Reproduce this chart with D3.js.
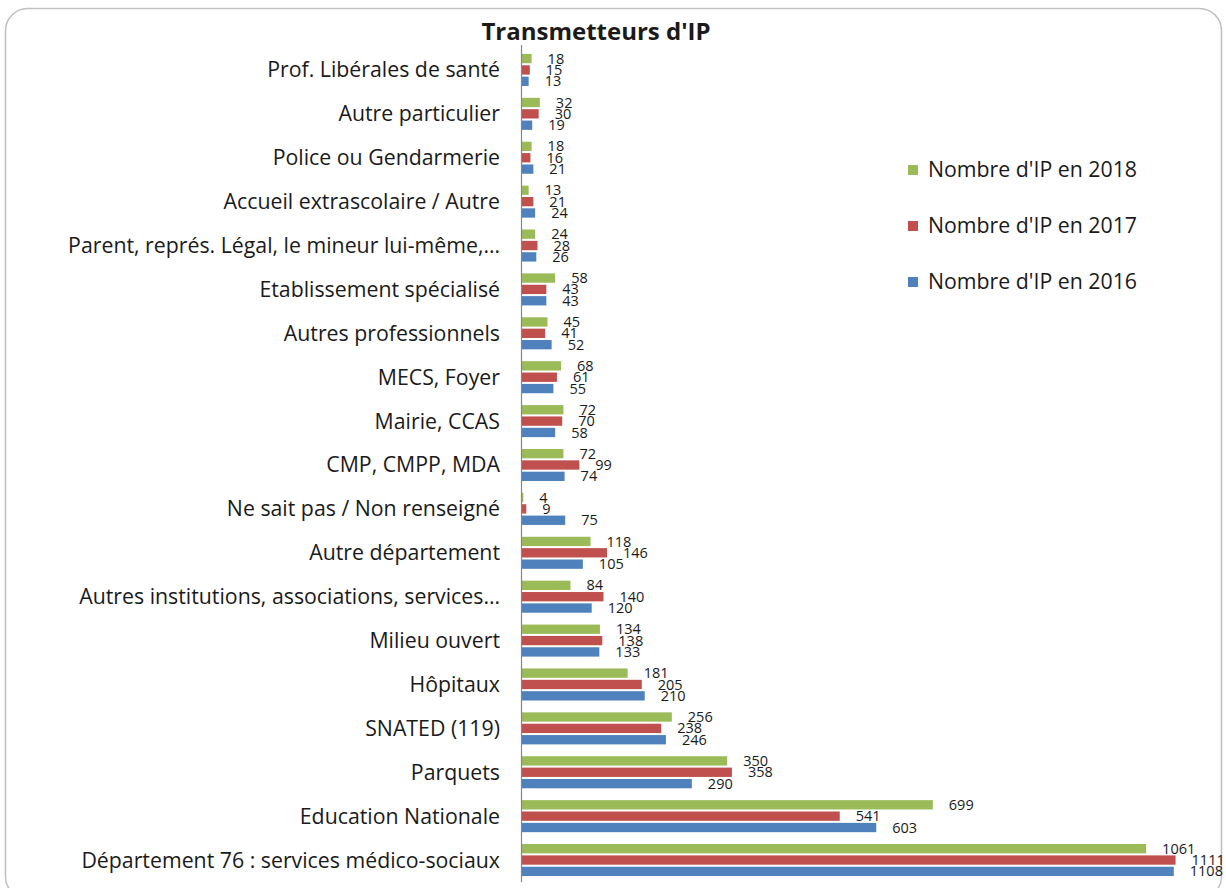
<!DOCTYPE html>
<meta charset="utf-8">
<style>
  body { margin: 0; background: #fff; }
  text { font-family: "Open Sans", sans-serif; fill: #1a1a1a; }
  .cat { font-size: 21.3px; }
  .val { font-size: 14.5px; }
  .leg { font-size: 21.3px; }
  .title { font-size: 24px; font-weight: bold; }
</style>

<body>
  <script src="https://cdn.jsdelivr.net/npm/d3@7/dist/d3.min.js"></script>
  <script>

    var categories = [
      "Prof. Libérales de santé",
      "Autre particulier",
      "Police ou Gendarmerie",
      "Accueil extrascolaire / Autre",
      "Parent, représ. Légal, le mineur lui-même,…",
      "Etablissement spécialisé",
      "Autres professionnels",
      "MECS, Foyer",
      "Mairie, CCAS",
      "CMP, CMPP, MDA",
      "Ne sait pas / Non renseigné",
      "Autre département",
      "Autres institutions, associations, services…",
      "Milieu ouvert",
      "Hôpitaux",
      "SNATED (119)",
      "Parquets",
      "Education Nationale",
      "Département 76 : services médico-sociaux"
    ];

    var ip2018 = [18, 32, 18, 13, 24, 58, 45, 68, 72, 72, 4, 118, 84, 134, 181, 256, 350, 699, 1061];
    var ip2017 = [15, 30, 16, 21, 28, 43, 41, 61, 70, 99, 9, 146, 140, 138, 205, 238, 358, 541, 1111];
    var ip2016 = [13, 19, 21, 24, 26, 43, 52, 55, 58, 74, 75, 105, 120, 133, 210, 246, 290, 603, 1108];

    var seriesNames = ["Nombre d'IP en 2018", "Nombre d'IP en 2017", "Nombre d'IP en 2016"];
    var colors = ["#9BBB59", "#C0504D", "#4F81BD"];

    var series = [ip2018, ip2017, ip2016];

    var width = 1226, height = 888;

    var svg = d3.select("body").append("svg")
      .attr("width", width)
      .attr("height", height);

    // outer frame
    svg.append("rect")
      .attr("x", 5.5).attr("y", 8.5)
      .attr("width", 1216).attr("height", 890)
      .attr("rx", 22)
      .attr("fill", "#fff")
      .attr("stroke", "#bfbfbf")
      .attr("stroke-width", 1.5);

    svg.append("text")
      .attr("class", "title")
      .attr("x", 596).attr("y", 40)
      .attr("text-anchor", "middle")
      .text("Transmetteurs d'IP");

    var x = d3.scaleLinear()
      .domain([0, 1200])
      .range([521, 1228]);

    var y = d3.scaleBand()
      .domain(categories)
      .range([48, 882])
      .paddingInner(0.27)
      .paddingOuter(0.135);

    var ys = d3.scaleBand()
      .domain(d3.range(series.length))
      .range([0, y.bandwidth()])
      .paddingInner(0.18);

    var groups = svg.selectAll("g.catg")
      .data(categories)
      .enter().append("g")
      .attr("class", "catg")
      .attr("transform", function (d) { return "translate(0," + y(d) + ")"; });

    groups.each(function (c, i) {
      var g = d3.select(this);
      series.forEach(function (s, k) {
        g.append("rect")
          .attr("x", x(0))
          .attr("y", ys(k))
          .attr("width", x(s[i]) - x(0))
          .attr("height", ys.bandwidth())
          .attr("fill", colors[k]);
        g.append("text")
          .attr("class", "val")
          .attr("x", x(s[i]) + 16)
          .attr("y", ys(k) + ys.bandwidth() / 2)
          .attr("dy", "0.35em")
          .text(s[i]);
      });
    });

    // category axis
    svg.append("line")
      .attr("x1", 521.5).attr("x2", 521.5)
      .attr("y1", 45).attr("y2", 882)
      .attr("stroke", "#868686")
      .attr("stroke-width", 1.2);

    svg.selectAll("text.cat")
      .data(categories)
      .enter().append("text")
      .attr("class", "cat")
      .attr("x", 500)
      .attr("y", function (d) { return y(d) + y.bandwidth() / 2; })
      .attr("dy", "0.35em")
      .attr("text-anchor", "end")
      .text(function (d) { return d; });

    // legend
    var leg = svg.selectAll("g.leg")
      .data(seriesNames)
      .enter().append("g")
      .attr("class", "leg")
      .attr("transform", function (d, i) { return "translate(908," + (170 + i * 56) + ")"; });

    leg.append("rect")
      .attr("x", 0).attr("y", -5)
      .attr("width", 10).attr("height", 10)
      .attr("fill", function (d, i) { return colors[i]; });

    leg.append("text")
      .attr("class", "leg")
      .attr("x", 20)
      .attr("dy", "0.35em")
      .text(function (d) { return d; });

  </script>
</body>

</html>
